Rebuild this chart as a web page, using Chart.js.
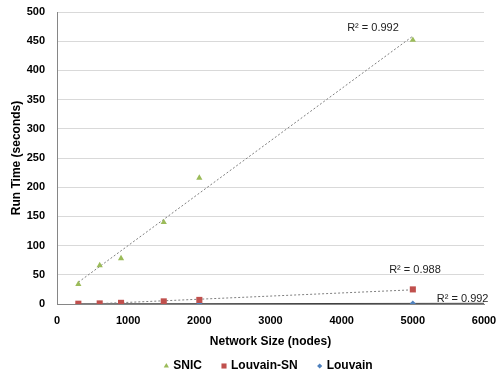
<!DOCTYPE html>
<html><head><meta charset="utf-8">
<script src="https://cdn.jsdelivr.net/npm/chart.js@4"></script>
<style>html,body{margin:0;padding:0;background:#fff}#wrap{width:498px;height:379px}</style>
</head><body><div id="wrap"><canvas id="c" width="498" height="379"></canvas></div>
<script>
const networkSizes = [300, 600, 900, 1500, 2000, 5000];
const snicTimes = [34, 66, 78, 140, 216, 452];
const louvainSnTimes = [0.5, 1, 2, 4.5, 7, 25];
const louvainTimes = [0.2, 0.3, 0.4, 0.5, 0.6, 1];
const seriesNames = ['SNIC', 'Louvain-SN', 'Louvain'];
const r2Labels = ['R² = 0.992', 'R² = 0.988', 'R² = 0.992'];
const xTicks = [0, 1000, 2000, 3000, 4000, 5000, 6000];
const yTicks = [0, 50, 100, 150, 200, 250, 300, 350, 400, 450, 500];

function fit(xs, ys) {
  const n = xs.length;
  const mx = xs.reduce((a, b) => a + b, 0) / n;
  const my = ys.reduce((a, b) => a + b, 0) / n;
  let sxy = 0, sxx = 0;
  for (let i = 0; i < n; i++) { sxy += (xs[i] - mx) * (ys[i] - my); sxx += (xs[i] - mx) ** 2; }
  const b = sxy / sxx, a = my - b * mx;
  return x => a + b * x;
}
function pts(ys) { return networkSizes.map((x, i) => ({x, y: ys[i]})); }
function trend(ys, x0, x1) { const f = fit(networkSizes, ys); return [{x: x0, y: f(x0)}, {x: x1, y: f(x1)}]; }

const FONT = '"Liberation Sans", Arial, sans-serif';
const colors = ['#9BBB59', '#C0504D', '#4F81BD'];
const allSeries = [snicTimes, louvainSnTimes, louvainTimes];
const styles = ['triangle', 'rect', 'rectRot'];
const radii = [3.6, 4.3, 3];
const legendRadii = [3, 3.6, 2.6];
const labelAnchors = [[4440, 472], [5030, 58], [5700, 9]];

const datasets = [];
allSeries.forEach((ys, i) => {
  datasets.push({label: seriesNames[i], data: pts(ys), showLine: false, pointStyle: styles[i],
    pointRadius: radii[i], pointBackgroundColor: colors[i], pointBorderColor: colors[i], pointBorderWidth: 0,
    backgroundColor: colors[i], borderColor: colors[i], order: 1});
});
const trendEnds = [[300, 5000], [300, 5000], [300, 6000]];
const trendColors = ['#7f7f7f', '#7f7f7f', '#404040'];
allSeries.forEach((ys, i) => {
  datasets.push({label: 'trend' + i, data: trend(ys, trendEnds[i][0], trendEnds[i][1]), showLine: true,
    pointRadius: 0, borderColor: trendColors[i], borderWidth: 1, borderDash: i === 2 ? [] : [2, 2], order: 2});
});

const r2Plugin = {
  id: 'r2',
  afterDatasetsDraw(chart) {
    const {ctx, scales: {x, y}} = chart;
    ctx.save();
    ctx.font = '11px ' + FONT;
    ctx.fillStyle = '#222';
    ctx.textAlign = 'center';
    ctx.textBaseline = 'middle';
    r2Labels.forEach((t, i) => ctx.fillText(t, x.getPixelForValue(labelAnchors[i][0]), y.getPixelForValue(labelAnchors[i][1])));
    ctx.restore();
  }
};

const legendPlugin = {
  id: 'customLegend',
  afterDraw(chart) {
    const {ctx, chartArea} = chart;
    ctx.save();
    ctx.font = 'bold 12px ' + FONT;
    const markerW = 9, gap = 20;
    const widths = seriesNames.map(n => markerW + ctx.measureText(n).width);
    const total = widths.reduce((a, b) => a + b, 0) + gap * (seriesNames.length - 1);
    let x = (chartArea.left + chartArea.right) / 2 - 2 - total / 2;
    const y = 366;
    ctx.textBaseline = 'middle';
    ctx.textAlign = 'left';
    seriesNames.forEach((n, i) => {
      ctx.fillStyle = colors[i];
      ctx.strokeStyle = colors[i];
      Chart.helpers.drawPoint(ctx, {pointStyle: styles[i], radius: legendRadii[i], borderWidth: 0}, x + 2, y);
      ctx.fillStyle = '#000';
      ctx.fillText(n, x + markerW, y);
      x += widths[i] + gap;
    });
    ctx.restore();
  }
};

const tickFont = {family: FONT, size: 11, weight: 'bold'};
new Chart(document.getElementById('c'), {
  type: 'scatter',
  data: {datasets},
  options: {
    responsive: false, animation: false, devicePixelRatio: 1,
    layout: {padding: {top: 12, right: 14, left: 0, bottom: 30}},
    plugins: {tooltip: {enabled: false}, legend: {display: false}},
    scales: {
      x: {type: 'linear', min: 0, max: 6000,
        afterBuildTicks: s => { s.ticks = xTicks.map(v => ({value: v})); },
        afterFit: s => { s.height = 45; s.paddingLeft = 0; s.paddingRight = 0; },
        grid: {display: false, drawTicks: false},
        border: {color: '#868686'},
        ticks: {color: '#000', font: tickFont, padding: 10, maxRotation: 0, callback: v => String(v)},
        title: {display: true, text: 'Network Size (nodes)', color: '#000', font: {family: FONT, size: 12, weight: 'bold'}, padding: {top: 4, bottom: 0}}
      },
      y: {type: 'linear', min: 0, max: 500,
        afterBuildTicks: s => { s.ticks = yTicks.map(v => ({value: v})); },
        afterFit: s => { s.width = 57; s.paddingTop = 0; s.paddingBottom = 0; },
        grid: {color: '#d9d9d9', drawTicks: false},
        border: {color: '#868686'},
        ticks: {color: '#000', font: tickFont, padding: 12, callback: v => String(v)},
        title: {display: true, text: 'Run Time (seconds)', color: '#000', font: {family: FONT, size: 12, weight: 'bold'}, padding: {top: 9, bottom: 4}}
      }
    }
  },
  plugins: [r2Plugin, legendPlugin]
});
</script></body></html>
